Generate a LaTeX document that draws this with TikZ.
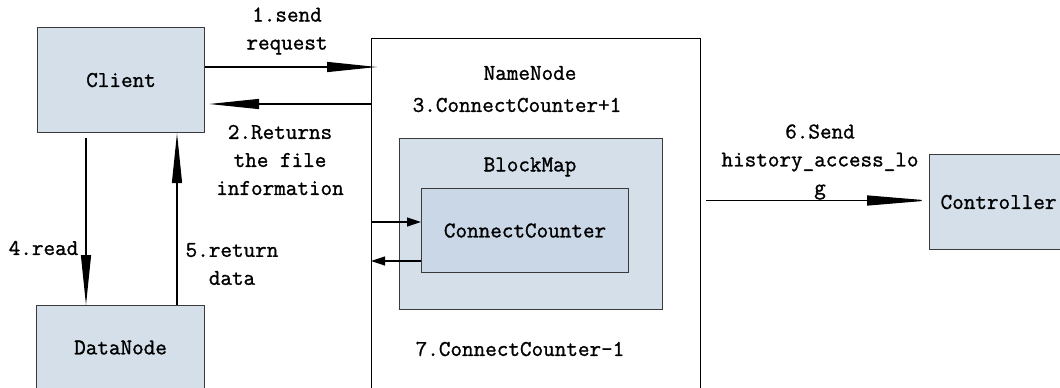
\documentclass[tikz,border=0pt]{standalone}
\usepackage{fontspec}
\setmonofont{Latin Modern Mono}[FakeBold=1.2]
\usetikzlibrary{arrows.meta}
\definecolor{boxfill}{HTML}{D4DFEA}
\definecolor{innerfill}{HTML}{C9D7E6}
\definecolor{boxline}{HTML}{3A3A3A}
\tikzset{
  box/.style={draw=boxline, line width=1.1pt, fill=boxfill, anchor=north west, inner sep=0pt},
  lbl/.style={align=center, inner sep=0pt, font=\ttfamily\fontsize{22.5}{28}\selectfont},
  bigarrow/.style={line width=1.2pt, -{Triangle[length=50pt,width=10pt]}},
  smallarrow/.style={line width=1.2pt, -{Triangle[length=14pt,width=9pt]}},
}
\begin{document}
\begin{tikzpicture}[x=1pt,y=-1pt]
\useasboundingbox (0,0) rectangle (1060,388);
\fill[white] (0,0) rectangle (1060,388);
% boxes
\node[box, minimum width=167pt, minimum height=105pt, lbl] (client) at (37,27) {Client};
\node[box, minimum width=168pt, minimum height=84pt, lbl] (datanode) at (36,305) {DataNode};
\node[box, fill=white, draw=black, minimum width=329pt, minimum height=370pt] (namenode) at (371,38) {};
\node[box, minimum width=263pt, minimum height=171pt] (blockmap) at (399,138) {};
\node[box, fill=innerfill, minimum width=207pt, minimum height=84pt, lbl] (cc) at (421,188) {ConnectCounter};
\node[box, minimum width=138pt, minimum height=95pt, lbl] (controller) at (929,154) {Controller};
% texts
\node[lbl] (nnlabel) at (530,73) {NameNode};
\node[lbl] (bmlabel) at (530,167) {BlockMap};
\node[lbl] (l1) at (287,31) {1.send\\request};
\node[lbl] (l2) at (280,160) {2.Returns\\the file\\information};
\node[lbl] (l3) at (517,105) {3.ConnectCounter+1};
\node[lbl] (l4) at (43.5,248) {4.read};
\node[lbl] (l5) at (232,264) {5.return\\data};
\node[lbl] (l6) at (820,162) {6.Send\\history\_access\_lo\\g};
\node[lbl] (l7) at (520,349) {7.ConnectCounter-1};
% connectors
\coordinate (c4) at (86,138);
\coordinate (c6) at (706,200.5);
\draw[bigarrow, shorten >=-6pt] (client.east |- 0,67) -- (namenode.west |- 0,67);
\draw[bigarrow, shorten >=4pt] (namenode.west |- 0,104) -- (client.east |- 0,104);
\draw[bigarrow] (c4) -- (datanode.north -| c4);
\draw[bigarrow] (datanode.north -| 177,0) -- (client.south -| 177,0);
\draw[bigarrow, -{Triangle[length=62pt,width=10pt]}] (c6) -- (controller.west |- c6);
\draw[smallarrow] (namenode.west |- 0,222) -- (cc.west |- 0,222);
\draw[smallarrow] (cc.west |- 0,261) -- (namenode.west |- 0,261);
\end{tikzpicture}
\end{document}
